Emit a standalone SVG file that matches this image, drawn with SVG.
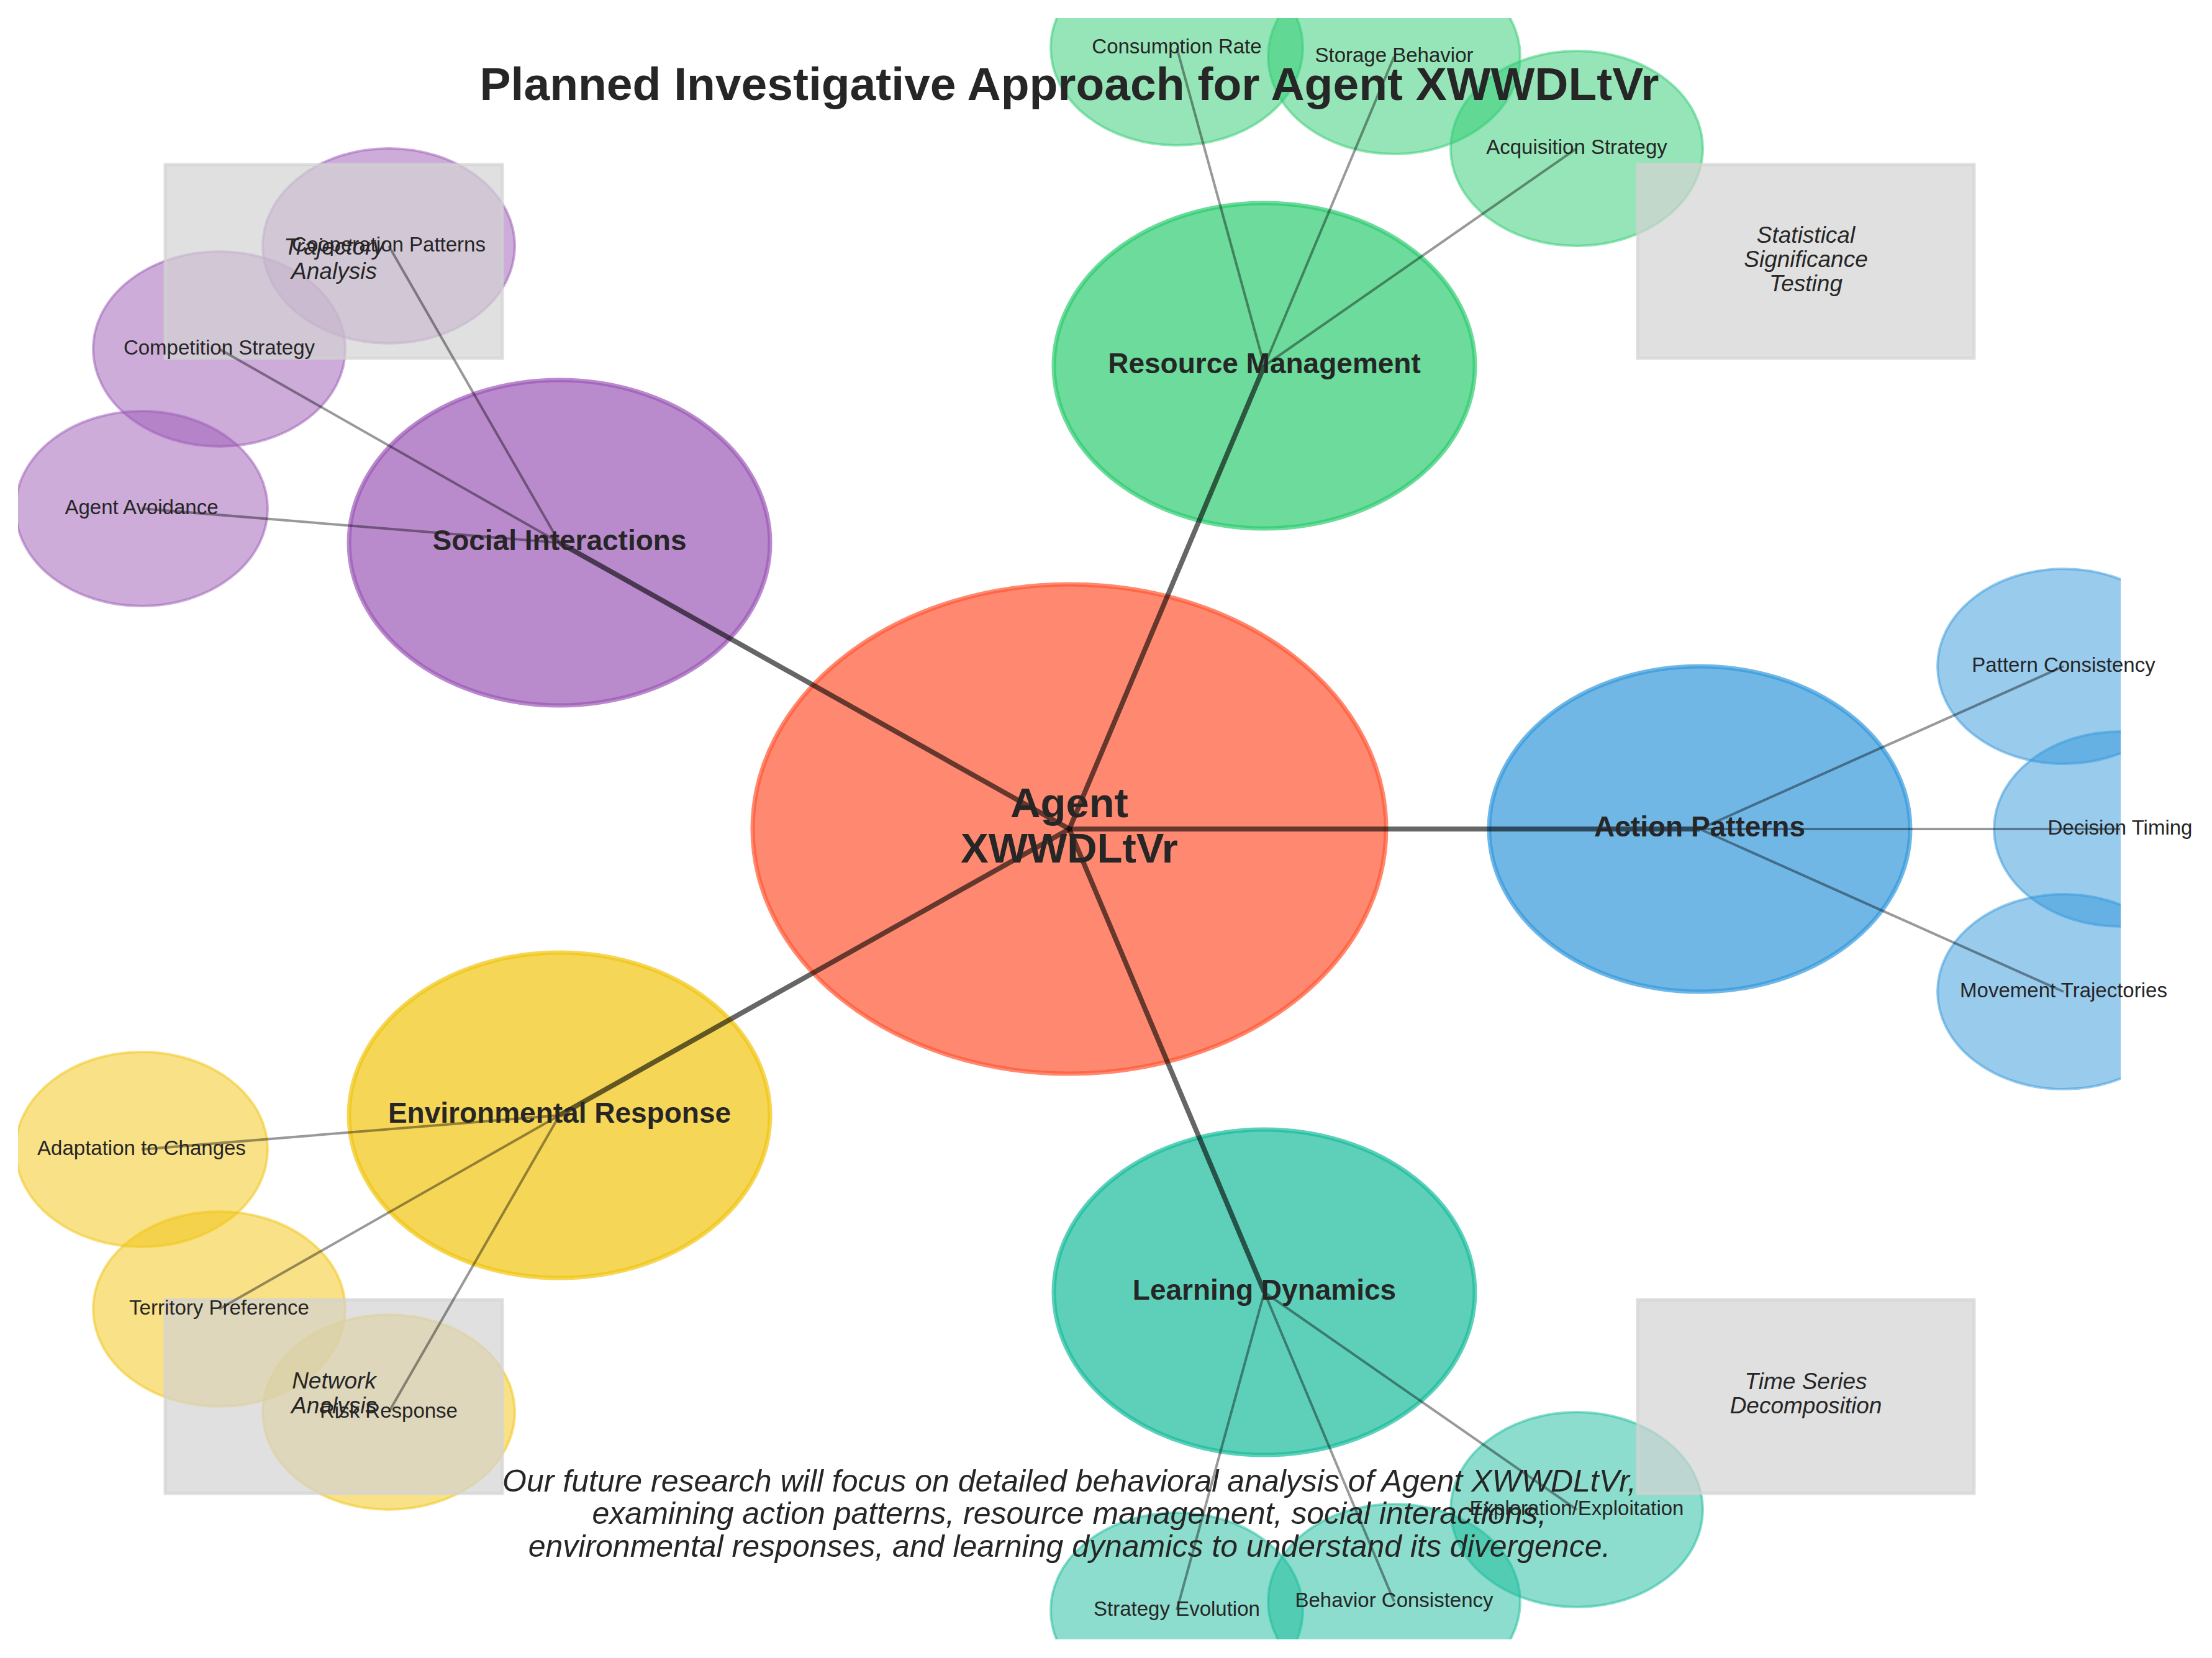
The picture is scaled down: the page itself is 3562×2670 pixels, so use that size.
<svg xmlns="http://www.w3.org/2000/svg" width="3562" height="2670" viewBox="0 0 3562 2670">
<style>
text{font-family:"Liberation Sans",Arial,sans-serif;fill:#262626}
.title{font-size:75px;font-weight:bold}
.center{font-size:67px;font-weight:bold}
.main{font-size:46px;font-weight:bold}
.sub{font-size:33px}
.method{font-size:37px;font-style:italic}
.note{font-size:50px;font-style:italic}
.mn{fill-opacity:0.7;stroke-opacity:0.7;stroke-width:7}
.sn{fill-opacity:0.5;stroke-opacity:0.5;stroke-width:4}
.box{fill:#d3d3d3;fill-opacity:0.7;stroke:#d3d3d3;stroke-opacity:0.7;stroke-width:5}
.l1{stroke:#000;stroke-opacity:0.6;stroke-width:8}
.l2{stroke:#000;stroke-opacity:0.4;stroke-width:4}
.ag{fill:#FF5733;stroke:#FF5733}
.ap{fill:#3498db;stroke:#3498db}
.rm{fill:#2ecc71;stroke:#2ecc71}
.si{fill:#9b59b6;stroke:#9b59b6}
.er{fill:#f1c40f;stroke:#f1c40f}
.ld{fill:#1abc9c;stroke:#1abc9c}
</style>
<defs>
<clipPath id="ax"><rect x="29" y="29" width="3386" height="2611"/></clipPath>
</defs>
<rect width="3562" height="2670" fill="#fff"/>
<g id="nodes" clip-path="url(#ax)">
<g id="node-agent"><ellipse class="ag mn" cx="1722" cy="1335" rx="510" ry="394"/></g>
<g id="node-action-patterns"><ellipse class="ap mn" cx="2737" cy="1335" rx="339" ry="262"/></g>
<g id="node-resource-management"><ellipse class="rm mn" cx="2036" cy="589" rx="339" ry="262"/></g>
<g id="node-social-interactions"><ellipse class="si mn" cx="901" cy="874" rx="339" ry="262"/></g>
<g id="node-environmental-response"><ellipse class="er mn" cx="901" cy="1796" rx="339" ry="262"/></g>
<g id="node-learning-dynamics"><ellipse class="ld mn" cx="2036" cy="2081" rx="339" ry="262"/></g>
<g id="node-pattern-consistency"><ellipse class="ap sn" cx="3323" cy="1073" rx="203" ry="157"/></g>
<g id="node-decision-timing"><ellipse class="ap sn" cx="3414" cy="1335" rx="203" ry="157"/></g>
<g id="node-movement-trajectories"><ellipse class="ap sn" cx="3323" cy="1597" rx="203" ry="157"/></g>
<g id="node-acquisition-strategy"><ellipse class="rm sn" cx="2539" cy="239" rx="203" ry="157"/></g>
<g id="node-storage-behavior"><ellipse class="rm sn" cx="2245" cy="91" rx="203" ry="157"/></g>
<g id="node-consumption-rate"><ellipse class="rm sn" cx="1895" cy="77" rx="203" ry="157"/></g>
<g id="node-cooperation-patterns"><ellipse class="si sn" cx="626" cy="396" rx="203" ry="157"/></g>
<g id="node-competition-strategy"><ellipse class="si sn" cx="353" cy="562" rx="203" ry="157"/></g>
<g id="node-agent-avoidance"><ellipse class="si sn" cx="228" cy="819" rx="203" ry="157"/></g>
<g id="node-adaptation-to-changes"><ellipse class="er sn" cx="228" cy="1851" rx="203" ry="157"/></g>
<g id="node-territory-preference"><ellipse class="er sn" cx="353" cy="2108" rx="203" ry="157"/></g>
<g id="node-risk-response"><ellipse class="er sn" cx="626" cy="2274" rx="203" ry="157"/></g>
<g id="node-strategy-evolution"><ellipse class="ld sn" cx="1895" cy="2593" rx="203" ry="157"/></g>
<g id="node-behavior-consistency"><ellipse class="ld sn" cx="2245" cy="2579" rx="203" ry="157"/></g>
<g id="node-exploration-exploitation"><ellipse class="ld sn" cx="2539" cy="2431" rx="203" ry="157"/></g>
</g>
<g id="methods">
<g id="method-trajectory-analysis"><rect class="box" x="266" y="265" width="543" height="312"/></g>
<g id="method-statistical-testing"><rect class="box" x="2637" y="265" width="542" height="312"/></g>
<g id="method-network-analysis"><rect class="box" x="266" y="2093" width="543" height="312"/></g>
<g id="method-time-series"><rect class="box" x="2637" y="2093" width="542" height="312"/></g>
</g>
<g id="connectors" clip-path="url(#ax)">
<line class="l1" x1="1722" y1="1335" x2="2737" y2="1335"/>
<line class="l1" x1="1722" y1="1335" x2="2036" y2="589"/>
<line class="l1" x1="1722" y1="1335" x2="901" y2="874"/>
<line class="l1" x1="1722" y1="1335" x2="901" y2="1796"/>
<line class="l1" x1="1722" y1="1335" x2="2036" y2="2081"/>
<line class="l2" x1="2737" y1="1335" x2="3323" y2="1073"/>
<line class="l2" x1="2737" y1="1335" x2="3414" y2="1335"/>
<line class="l2" x1="2737" y1="1335" x2="3323" y2="1597"/>
<line class="l2" x1="2036" y1="589" x2="2539" y2="239"/>
<line class="l2" x1="2036" y1="589" x2="2245" y2="91"/>
<line class="l2" x1="2036" y1="589" x2="1895" y2="77"/>
<line class="l2" x1="901" y1="874" x2="626" y2="396"/>
<line class="l2" x1="901" y1="874" x2="353" y2="562"/>
<line class="l2" x1="901" y1="874" x2="228" y2="819"/>
<line class="l2" x1="901" y1="1796" x2="228" y2="1851"/>
<line class="l2" x1="901" y1="1796" x2="353" y2="2108"/>
<line class="l2" x1="901" y1="1796" x2="626" y2="2274"/>
<line class="l2" x1="2036" y1="2081" x2="1895" y2="2593"/>
<line class="l2" x1="2036" y1="2081" x2="2245" y2="2579"/>
<line class="l2" x1="2036" y1="2081" x2="2539" y2="2431"/>
</g>
<g id="labels" text-anchor="middle">
<text class="center" x="1722"><tspan x="1722" y="1316">Agent</tspan><tspan x="1722" y="1389">XWWDLtVr</tspan></text>
<text class="main" x="2737" y="1347">Action Patterns</text>
<text class="main" x="2036" y="601">Resource Management</text>
<text class="main" x="901" y="886">Social Interactions</text>
<text class="main" x="901" y="1808">Environmental Response</text>
<text class="main" x="2036" y="2093">Learning Dynamics</text>
<text class="sub" x="3323" y="1082">Pattern Consistency</text>
<text class="sub" x="3414" y="1344">Decision Timing</text>
<text class="sub" x="3323" y="1606">Movement Trajectories</text>
<text class="sub" x="2539" y="248">Acquisition Strategy</text>
<text class="sub" x="2245" y="100">Storage Behavior</text>
<text class="sub" x="1895" y="86">Consumption Rate</text>
<text class="sub" x="626" y="405">Cooperation Patterns</text>
<text class="sub" x="353" y="571">Competition Strategy</text>
<text class="sub" x="228" y="828">Agent Avoidance</text>
<text class="sub" x="228" y="1860">Adaptation to Changes</text>
<text class="sub" x="353" y="2117">Territory Preference</text>
<text class="sub" x="626" y="2283">Risk Response</text>
<text class="sub" x="1895" y="2602">Strategy Evolution</text>
<text class="sub" x="2245" y="2588">Behavior Consistency</text>
<text class="sub" x="2539" y="2440">Exploration/Exploitation</text>
<text class="method"><tspan x="538" y="410">Trajectory</tspan><tspan x="538" y="449">Analysis</tspan></text>
<text class="method"><tspan x="2908" y="391">Statistical</tspan><tspan x="2908" y="430">Significance</tspan><tspan x="2908" y="469">Testing</tspan></text>
<text class="method"><tspan x="538" y="2236">Network</tspan><tspan x="538" y="2276">Analysis</tspan></text>
<text class="method"><tspan x="2908" y="2237">Time Series</tspan><tspan x="2908" y="2276">Decomposition</tspan></text>
</g>
<text class="title" x="1722" y="161" text-anchor="middle">Planned Investigative Approach for Agent XWWDLtVr</text>
<text class="note" text-anchor="middle"><tspan x="1722" y="2402">Our future research will focus on detailed behavioral analysis of Agent XWWDLtVr,</tspan><tspan x="1722" y="2454">examining action patterns, resource management, social interactions,</tspan><tspan x="1722" y="2507">environmental responses, and learning dynamics to understand its divergence.</tspan></text>
</svg>
